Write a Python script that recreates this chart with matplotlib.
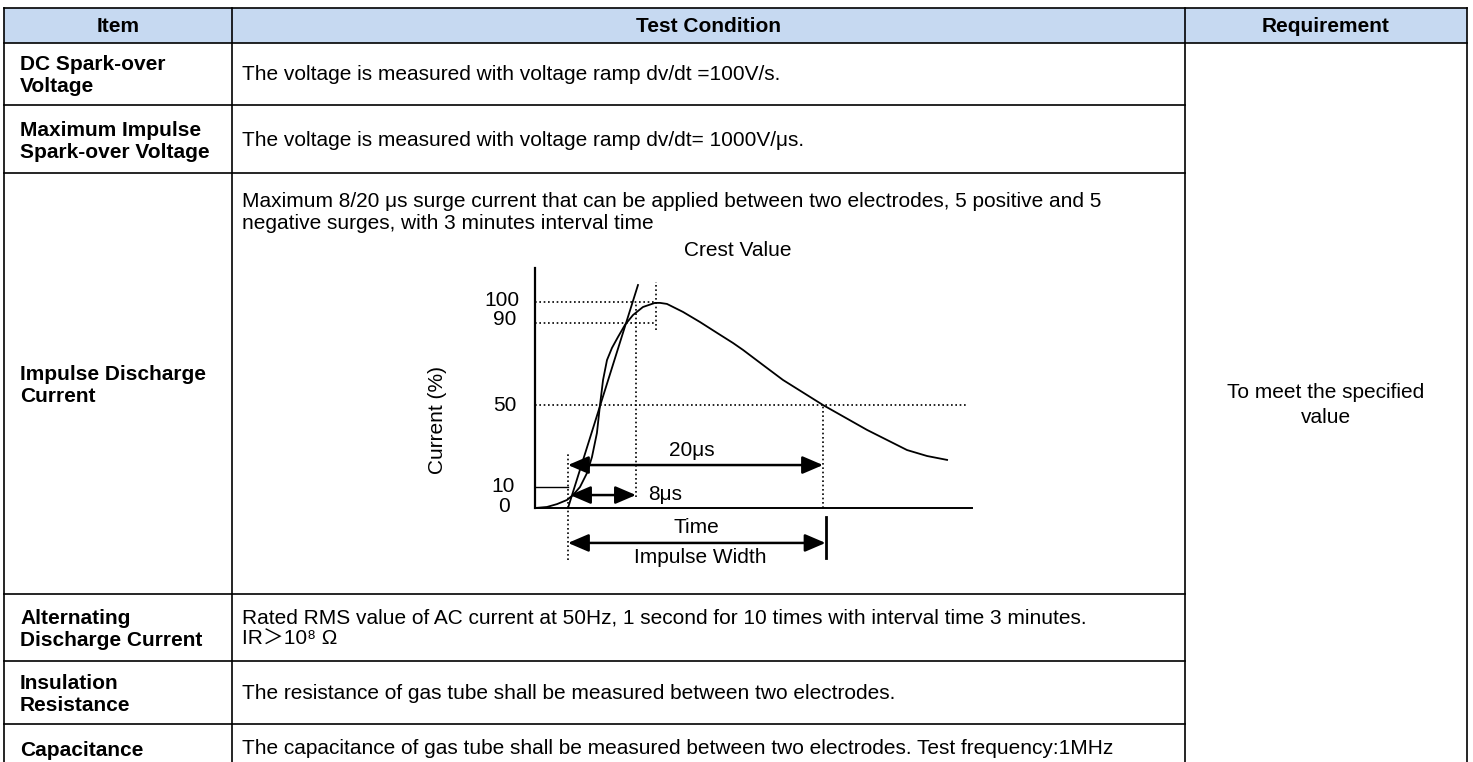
import matplotlib
matplotlib.use("Agg")
import matplotlib.pyplot as plt

# table text
headers = ["Item", "Test Condition", "Requirement"]
items = ["DC Spark-over\nVoltage",
         "Maximum Impulse\nSpark-over Voltage",
         "Impulse Discharge\nCurrent",
         "Alternating\nDischarge Current",
         "Insulation\nResistance",
         "Capacitance"]
conditions = ["The voltage is measured with voltage ramp dv/dt =100V/s.",
              "The voltage is measured with voltage ramp dv/dt= 1000V/\u03bcs.",
              "Maximum 8/20 \u03bcs surge current that can be applied between two electrodes, 5 positive and 5\n"
              "negative surges, with 3 minutes interval time",
              "Rated RMS value of AC current at 50Hz, 1 second for 10 times with interval time 3 minutes.\n"
              "IR\uff1e10\u2078 \u03a9",
              "The resistance of gas tube shall be measured between two electrodes.",
              "The capacitance of gas tube shall be measured between two electrodes. Test frequency:1MHz"]
requirement = "To meet the specified\nvalue"

# 8/20 waveform (time in us from the virtual origin, current in %)
curve_t = [-2.59, -1.65, -0.86, -0.08, 0.39, 0.94, 1.49, 1.88, 2.27, 2.51,
           2.75, 3.06, 3.45, 3.92, 4.47, 5.10, 5.88, 6.82, 7.22, 7.76,
           9.02, 10.35, 11.69, 12.94, 13.73, 15.29, 16.86, 20.0, 23.45,
           26.59, 28.16, 29.73]
curve_i = [0, 0.5, 1.9, 3.9, 6.3, 10.2, 17.0, 24.8, 36.5, 50.1,
           62.3, 72.0, 77.9, 83.2, 89.1, 93.9, 97.8, 99.8, 99.8, 99.3,
           95.4, 90.5, 85.2, 80.3, 76.9, 69.6, 62.3, 50.1, 38.0,
           28.2, 25.3, 23.4]
front_t = [0, 5.49]
front_i = [0, 108.5]
level_ticks = [100, 90, 50, 10, 0]
t_axis0 = -2.59
t_end = 31.7
t_peak = 6.9
t_front = 5.33
t_half = 20.0

W, H = 1473, 762
fig = plt.figure(figsize=(W / 100, H / 100), dpi=100)
plt.rcParams['font.family'] = ['Liberation Sans', 'DejaVu Sans', 'Noto Sans CJK SC']
FS = 15

ax = fig.add_axes([0, 0, 1, 1])
ax.set_xlim(0, W)
ax.set_ylim(H, 0)
ax.axis('off')

# table grid
col_x = [4, 232, 1185, 1467]
row_y = [8, 43, 105, 173, 594, 661, 724]
ax.fill_between([col_x[0], col_x[-1]], row_y[0], row_y[1], color='#c6d9f1', lw=0)
lw = 1.2
for y in row_y[:2]:
    ax.plot([col_x[0], col_x[-1]], [y, y], color='black', lw=lw)
for y in row_y[2:]:
    ax.plot([col_x[0], col_x[2]], [y, y], color='black', lw=lw)
for x in col_x:
    ax.plot([x, x], [row_y[0], H], color='black', lw=lw)

for k, h in enumerate(headers):
    ax.text((col_x[k] + col_x[k + 1]) / 2, (row_y[0] + row_y[1]) / 2 + 1, h,
            ha='center', va='center', fontsize=FS, fontweight='bold')

row_mid = [(row_y[i] + row_y[i + 1]) / 2 for i in range(1, len(row_y) - 1)] + [748]
for k, (it, cond) in enumerate(zip(items, conditions)):
    ax.text(col_x[0] + 16, row_mid[k] + 2, it, ha='left', va='center',
            fontsize=FS, fontweight='bold', linespacing=1.2)
    if k == 2:
        ax.text(col_x[1] + 10, 192, cond, ha='left', va='top', fontsize=FS, linespacing=1.2)
    else:
        ax.text(col_x[1] + 10, row_mid[k] + 1, cond, ha='left', va='center',
                fontsize=FS, linespacing=1.2)

ax.text((col_x[2] + col_x[3]) / 2, 405, requirement, ha='center', va='center',
        fontsize=FS, linespacing=1.35)

# waveform diagram
x0, x1, y0, y1 = 480, 1000, 240, 575
dg = fig.add_axes([x0 / W, 1 - y1 / H, (x1 - x0) / W, (y1 - y0) / H])
dg.set_xlim(-6.90, 33.88)
dg.set_ylim(-32.6, 130.4)
dg.axis('off')

dot = dict(color='black', lw=1.2, ls=(0, (1, 1.6)))
dg.plot([t_axis0, t_axis0], [0, 116.8], color='black', lw=1.6)
dg.plot([t_axis0, t_end], [0, 0], color='black', lw=1.4)
dg.plot(curve_t, curve_i, color='black', lw=1.3)
dg.plot(front_t, front_i, color='black', lw=1.3)
dg.plot([t_axis0, 0], [10, 10], color='black', lw=1.0)

dg.plot([t_axis0, t_peak], [100, 100], **dot)
dg.plot([t_axis0, t_peak], [90, 90], **dot)
dg.plot([t_peak, t_peak], [86.6, 110], **dot)
dg.plot([t_front, t_front], [5.4, 100], **dot)
dg.plot([t_axis0, 31.4], [50, 50], **dot)
dg.plot([t_half, t_half], [0, 50], **dot)
dg.plot([0, 0], [-25.3, 26.8], **dot)
dg.plot([20.2, 20.2], [-24.3, -4.4], color='black', lw=2.0)

arrow = dict(arrowstyle='<|-|>,head_length=0.7,head_width=0.3', color='black',
             lw=1.8, shrinkA=0, shrinkB=0, mutation_scale=18)
dg.annotate('', xy=(t_half, 20.9), xytext=(0, 20.9), arrowprops=arrow)
dg.annotate('', xy=(t_front, 6.3), xytext=(0.16, 6.3), arrowprops=arrow)
dg.annotate('', xy=(20.2, -17), xytext=(0, -17), arrowprops=arrow)

dg.text(9.7, 28.2, "20\u03bcs", ha='center', va='center', fontsize=FS)
dg.text(6.3, 6.8, "8\u03bcs", ha='left', va='center', fontsize=FS)
dg.text(10.1, -9.7, "Time", ha='center', va='center', fontsize=FS)
dg.text(10.35, -24.3, "Impulse Width", ha='center', va='center', fontsize=FS)
dg.text(13.3, 125.5, "Crest Value", ha='center', va='center', fontsize=FS)
dg.text(-10.27, 42.8, "Current (%)", ha='center', va='center', rotation=90, fontsize=FS)

lab_x = {100: -5.2, 90: -4.95, 50: -4.95, 10: -5.1, 0: -5.0}
lab_y = {100: 101.0, 90: 91.5, 50: 50.0, 10: 10.5, 0: 0.5}
for v in level_ticks:
    dg.text(lab_x[v], lab_y[v], str(v), ha='center', va='center', fontsize=FS)

fig.savefig("out.png", dpi=100)
